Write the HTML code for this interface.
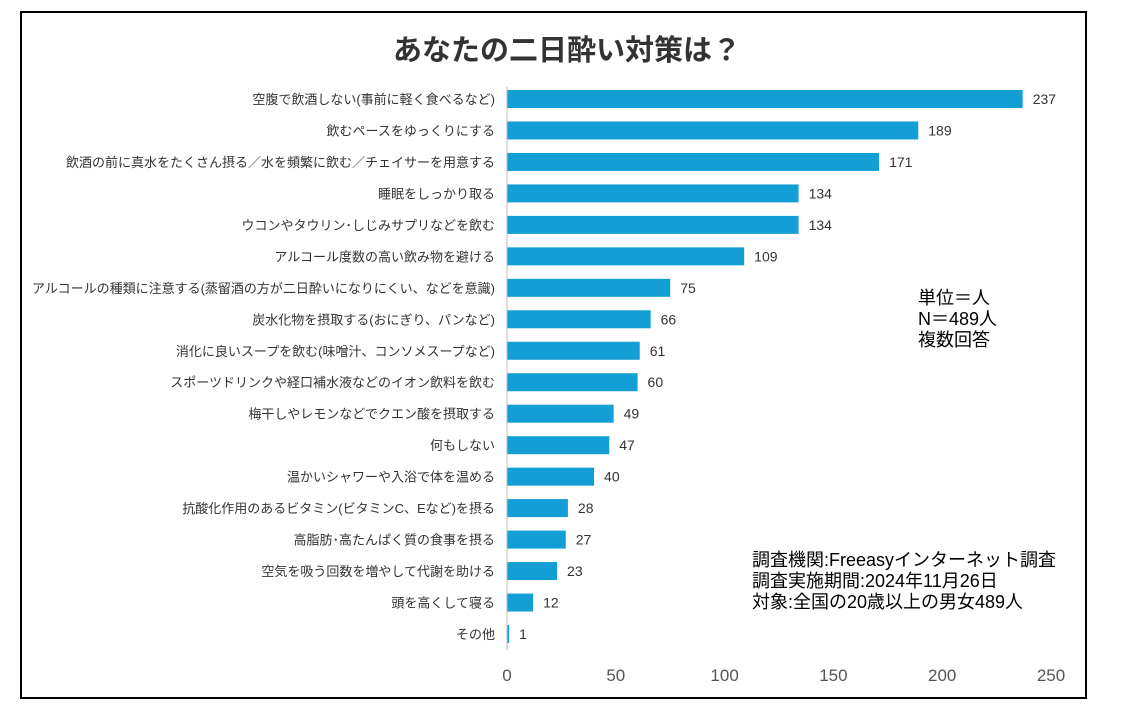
<!DOCTYPE html>
<html><head><meta charset="utf-8">
<style>
html,body{margin:0;padding:0;background:#fff;}
body{width:1131px;height:707px;position:relative;overflow:hidden;font-family:"Liberation Sans","Noto Sans CJK JP",sans-serif;}
#frame{position:absolute;left:20px;top:11px;width:1063px;height:684px;border:2px solid #000;box-sizing:content-box;}
svg{position:absolute;left:0;top:0;}
</style></head>
<body>
<div id="frame"></div>
<svg id="chart" width="1131" height="707">
<text x="567" y="60" text-anchor="middle" font-size="29" font-weight="bold" fill="#333">あなたの二日酔い対策は？</text>
<g font-size="18" fill="#000">
<text x="918" y="304">単位＝人</text>
<text x="918" y="325">N＝489人</text>
<text x="918" y="346">複数回答</text>
</g>
<g font-size="18" fill="#000">
<text x="752" y="566">調査機関:Freeasyインターネット調査</text>
<text x="752" y="587">調査実施期間:2024年11月26日</text>
<text x="752" y="608">対象:全国の20歳以上の男女489人</text>
</g>
</svg>
<script>
const categories=["空腹で飲酒しない(事前に軽く食べるなど)","飲むペースをゆっくりにする","飲酒の前に真水をたくさん摂る／水を頻繁に飲む／チェイサーを用意する","睡眠をしっかり取る","ウコンやタウリン･しじみサプリなどを飲む","アルコール度数の高い飲み物を避ける","アルコールの種類に注意する(蒸留酒の方が二日酔いになりにくい、などを意識)","炭水化物を摂取する(おにぎり、パンなど)","消化に良いスープを飲む(味噌汁、コンソメスープなど)","スポーツドリンクや経口補水液などのイオン飲料を飲む","梅干しやレモンなどでクエン酸を摂取する","何もしない","温かいシャワーや入浴で体を温める","抗酸化作用のあるビタミン(ビタミンC、Eなど)を摂る","高脂肪･高たんぱく質の食事を摂る","空気を吸う回数を増やして代謝を助ける","頭を高くして寝る","その他"];
const values=[237,189,171,134,134,109,75,66,61,60,49,47,40,28,27,23,12,1];
const ticks=[0,50,100,150,200,250];
const svg=document.getElementById('chart');
const NS='http://www.w3.org/2000/svg';
const x0=507,x1=1051,vmax=250,yTop=99,yBot=634;
const xs=v=>x0+(v/vmax)*(x1-x0);
const step=(yBot-yTop)/(categories.length-1);
const ys=i=>yTop+i*step;
function mk(tag,attrs){const e=document.createElementNS(NS,tag);for(const k in attrs)e.setAttribute(k,attrs[k]);svg.appendChild(e);return e;}
categories.forEach((c,i)=>{
 const y=ys(i);
 const b=mk('rect',{x:x0,y:y-9,width:Math.max(xs(values[i])-x0,1.5),height:18,fill:'#139fd5'});
 
 
 const l=mk('text',{x:495,y:y+5,'text-anchor':'end','font-size':'13',fill:'#333'});
 l.textContent=c;
 
 
 const v=mk('text',{x:xs(values[i])+10,y:y+5,'font-size':'14',fill:'#333'});
 v.textContent=values[i];
 
 
});
const ax=mk('line',{x1:x0,y1:yTop-12,x2:x0,y2:yBot+16,stroke:'#bbb','stroke-width':1});


ticks.forEach(t=>{
 const e=mk('text',{x:xs(t),y:681,'text-anchor':'middle','font-size':'17',fill:'#555'});
 e.textContent=t;
 
 
});
</script>
</body></html>
